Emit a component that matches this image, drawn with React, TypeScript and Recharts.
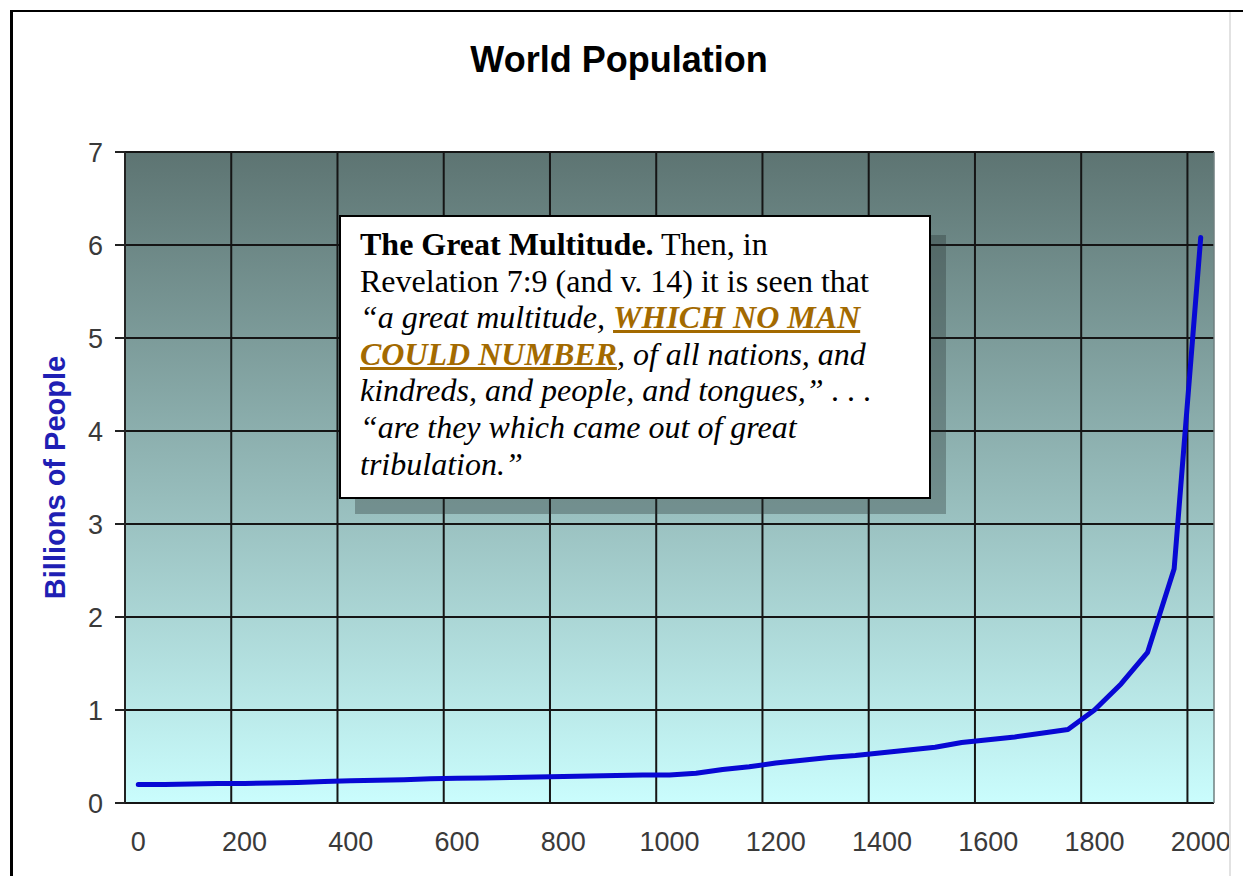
import React from 'react';
import { LineChart, Line, XAxis, YAxis, CartesianGrid, ReferenceLine } from 'recharts';

// one category every 50 years, as in the original spreadsheet chart
const years = [
  0, 50, 100, 150, 200, 250, 300, 350, 400, 450,
  500, 550, 600, 650, 700, 750, 800, 850, 900, 950,
  1000, 1050, 1100, 1150, 1200, 1250, 1300, 1350, 1400, 1450,
  1500, 1550, 1600, 1650, 1700, 1750, 1800, 1850, 1900, 1950,
  2000,
];
const billions = [
  0.2, 0.2, 0.205, 0.21, 0.21, 0.215, 0.22, 0.23, 0.24, 0.245,
  0.25, 0.26, 0.265, 0.27, 0.275, 0.28, 0.285, 0.29, 0.295, 0.3,
  0.3, 0.32, 0.36, 0.39, 0.43, 0.46, 0.49, 0.51, 0.54, 0.57,
  0.6, 0.65, 0.68, 0.71, 0.75, 0.79, 1.0, 1.28, 1.62, 2.52,
  6.08,
];
const yearLabels = [0, 200, 400, 600, 800, 1000, 1200, 1400, 1600, 1800, 2000];
// category boundaries, where the spreadsheet draws its tick marks and vertical grid
const tickMarks = [-25, 175, 375, 575, 775, 975, 1175, 1375, 1575, 1775, 1975];
const valueTicks = [0, 1, 2, 3, 4, 5, 6, 7];
const xDomain: [number, number] = [-25, 2025];

const data = years.map((year, i) => ({ year, pop: billions[i] }));

const sans = '"Liberation Sans", Arial, sans-serif';
const tickStyle = { fill: '#3a3a3a', fontSize: 27, fontFamily: sans };
const gold = { color: '#a36a00', fontWeight: 'bold' as const, textDecoration: 'underline' };

const NoLabel = () => <g />;

// vertical grid at the category boundaries, mapped the same way as the x axes
const gridX = ({ offset }: any) =>
  tickMarks.map((t) => offset.left + ((t - xDomain[0]) / (xDomain[1] - xDomain[0])) * offset.width);

export default function App() {
  return (
    <div style={{ position: 'absolute', left: 0, top: 0, width: 1243, height: 876, background: '#fff', overflow: 'hidden' }}>
      <LineChart width={1243} height={876} data={data} margin={{ top: 152, right: 29, bottom: 13, left: 0 }}>
        <defs>
          <linearGradient id="plotBg" x1="0" y1="0" x2="0" y2="1">
            <stop offset="0%" stopColor="#5d7472" />
            <stop offset="100%" stopColor="#cafdfd" />
          </linearGradient>
        </defs>
        <CartesianGrid
          xAxisId="marks"
          fill="url(#plotBg)"
          fillOpacity={1}
          stroke="#151515"
          strokeWidth={2}
          verticalCoordinatesGenerator={gridX}
        />
        <YAxis
          type="number"
          domain={[0, 7]}
          ticks={valueTicks}
          interval={0}
          width={125}
          tickSize={10}
          tickMargin={12}
          axisLine={{ stroke: '#222', strokeWidth: 2 }}
          tickLine={{ stroke: '#222', strokeWidth: 2 }}
          tick={tickStyle}
          label={{
            content: (props: any) => {
              const vb = props.viewBox;
              const cx = vb.x + 55;
              const cy = vb.y + vb.height / 2;
              return (
                <text
                  x={cx}
                  y={cy}
                  transform={`rotate(-90, ${cx}, ${cy})`}
                  textAnchor="middle"
                  dominantBaseline="central"
                  fill="#1f1fb4"
                  fontSize={29}
                  fontWeight="bold"
                  fontFamily={sans}
                >
                  Billions of People
                </text>
              );
            },
          }}
        />
        <XAxis
          xAxisId="marks"
          dataKey="year"
          type="number"
          domain={xDomain}
          ticks={tickMarks}
          interval={0}
          height={0}
          tick={NoLabel}
          tickSize={10}
          axisLine={{ stroke: '#222', strokeWidth: 2 }}
          tickLine={{ stroke: '#222', strokeWidth: 2 }}
        />
        <XAxis
          xAxisId="labels"
          dataKey="year"
          type="number"
          domain={xDomain}
          ticks={yearLabels}
          interval={0}
          height={60}
          axisLine={false}
          tickLine={false}
          tickSize={10}
          tickMargin={19}
          tick={tickStyle}
        />
        <ReferenceLine xAxisId="marks" x={2025} stroke="#6f7f7f" strokeWidth={1.5} />
        <Line
          xAxisId="labels"
          type="linear"
          dataKey="pop"
          stroke="#0808d4"
          strokeWidth={5}
          strokeLinejoin="round"
          strokeLinecap="round"
          dot={false}
          isAnimationActive={false}
        />
      </LineChart>

      <svg width={1243} height={120} style={{ position: 'absolute', left: 0, top: 0, pointerEvents: 'none' }}>
        <text x={619} y={72} textAnchor="middle" fontSize={36} fontWeight="bold" fontFamily={sans} fill="#000">
          World Population
        </text>
      </svg>

      {/* outer frame */}
      <div style={{ position: 'absolute', left: 10, top: 10, width: 1300, height: 900, borderTop: '2px solid #000', borderLeft: '3px solid #000' }} />
      <div style={{ position: 'absolute', left: 1229, top: 12, width: 2, height: 870, background: '#e2e2e2' }} />

      {/* callout */}
      <div style={{ position: 'absolute', left: 355, top: 235, width: 591, height: 279, background: 'rgba(35,45,45,0.32)' }} />
      <div
        style={{
          position: 'absolute',
          left: 339,
          top: 215,
          width: 592,
          height: 284,
          boxSizing: 'border-box',
          border: '2px solid #000',
          background: '#fff',
          padding: '9px 0 0 19px',
          fontFamily: '"Liberation Serif", "Times New Roman", serif',
          fontSize: 32,
          lineHeight: '36.6px',
          color: '#000',
          whiteSpace: 'nowrap',
        }}
      >
        <b>The Great Multitude.</b> Then, in<br />
        Revelation 7:9 (and v. 14) it is seen that<br />
        <i>“a great multitude, <span style={gold}>WHICH NO MAN</span></i><br />
        <i><span style={gold}>COULD NUMBER</span>, of all nations, and</i><br />
        <i>kindreds, and people, and tongues,” . . .</i><br />
        <i>“are they which came out of great</i><br />
        <i>tribulation.”</i>
      </div>
    </div>
  );
}
